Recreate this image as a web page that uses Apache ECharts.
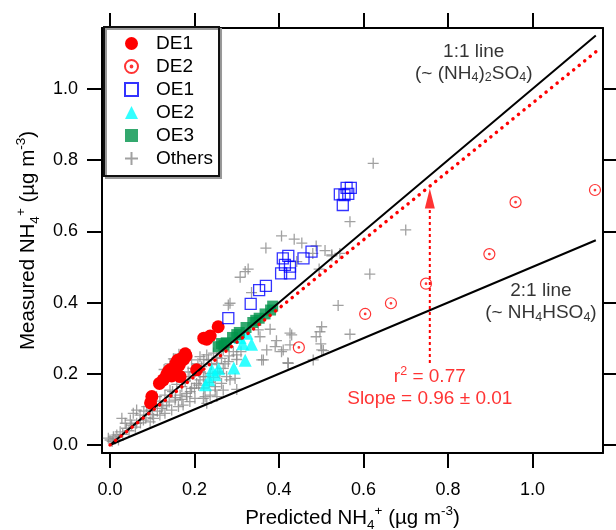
<!DOCTYPE html>
<html><head><meta charset="utf-8">
<script src="https://cdn.jsdelivr.net/npm/echarts@6/dist/echarts.min.js"></script>
<style>html,body{margin:0;padding:0;background:#fff}#c{width:616px;height:530px}</style>
</head><body><div id="c"></div>
<script>
// ---- data ----
const tickValues = [0, 0.2, 0.4, 0.6, 0.8, 1.0];
const de1 = [[0.256,0.332],[0.237,0.306],[0.222,0.300],[0.229,0.297],[0.205,0.211],[0.178,0.256],[0.174,0.240],[0.170,0.243],[0.164,0.225],[0.156,0.229],[0.151,0.215],[0.142,0.211],[0.138,0.206],[0.166,0.192],[0.146,0.194],[0.134,0.197],[0.126,0.183],[0.117,0.173],[0.099,0.136],[0.096,0.118],[0.160,0.238],[0.180,0.250]];
const de2 = [[0.447,0.274],[0.604,0.368],[0.665,0.398],[0.748,0.453],[0.898,0.536],[0.960,0.682],[1.148,0.716]];
const oe1 = [[0.280,0.356],[0.333,0.396],[0.353,0.435],[0.369,0.447],[0.405,0.482],[0.426,0.482],[0.414,0.506],[0.426,0.501],[0.409,0.524],[0.422,0.531],[0.458,0.524],[0.477,0.543],[0.551,0.674],[0.544,0.704],[0.555,0.702],[0.564,0.705],[0.560,0.722],[0.570,0.722]];
const oe2 = [[0.335,0.283],[0.314,0.284],[0.308,0.302],[0.324,0.314],[0.320,0.238],[0.293,0.216],[0.257,0.214],[0.241,0.211],[0.249,0.197],[0.234,0.183],[0.226,0.169]];
const oe3 = [[0.256,0.276],[0.264,0.285],[0.275,0.287],[0.290,0.302],[0.306,0.316],[0.322,0.330],[0.338,0.344],[0.353,0.356],[0.367,0.368],[0.380,0.379],[0.385,0.390],[0.270,0.280],[0.300,0.310],[0.345,0.350]];
const others = [[0.000,0.014],[-0.004,0.019],[0.008,0.023],[0.016,0.028],[0.024,0.037],[0.020,0.014],[0.005,0.010],[0.012,0.017],
[0.039,0.047],[0.051,0.056],[0.063,0.061],[0.079,0.070],[0.095,0.065],[0.103,0.075],[0.118,0.084],[0.130,0.089],[0.146,0.098],[0.162,0.108],[0.173,0.112],[0.189,0.122],[0.201,0.131],
[0.071,0.084],[0.036,0.061],[0.028,0.075],[0.055,0.089],[0.095,0.098],[0.122,0.103],[0.134,0.112],[0.154,0.126],[0.166,0.140],[0.181,0.145],[0.193,0.159],[0.170,0.164],[0.205,0.173],[0.213,0.183],[0.225,0.192],[0.237,0.201],[0.201,0.206],[0.217,0.220],[0.173,0.229],[0.193,0.239],[0.213,0.248],[0.229,0.253],[0.245,0.258],[0.181,0.258],[0.154,0.234],[0.189,0.192],[0.130,0.140],[0.110,0.136],[0.142,0.154],[0.253,0.229],[0.264,0.243],[0.268,0.215],[0.276,0.192],[0.264,0.173],[0.249,0.154],[0.237,0.140],[0.221,0.131],[0.268,0.267],[0.280,0.234],[0.087,0.108],[0.063,0.098],
[0.030,0.030],[0.045,0.040],[0.060,0.050],[0.072,0.062],[0.085,0.076],[0.100,0.085],[0.112,0.095],[0.125,0.110],[0.140,0.121],[0.155,0.133],[0.170,0.128],[0.182,0.136],[0.190,0.150],[0.200,0.160],[0.210,0.168],[0.222,0.160],[0.235,0.176],[0.245,0.190],[0.255,0.205],[0.272,0.228],[0.282,0.250],[0.292,0.262],[0.300,0.240],[0.310,0.262],
[0.142,0.228],[0.150,0.242],[0.163,0.255],[0.128,0.212],[0.208,0.228],[0.222,0.240],[0.240,0.226],[0.253,0.246],[0.212,0.205],[0.196,0.215],[0.185,0.205],[0.178,0.180],[0.158,0.170],[0.148,0.150],[0.118,0.123],[0.105,0.112],[0.080,0.095],[0.048,0.070],
[0.284,0.398],[0.379,0.325],[0.426,0.314],[0.501,0.332],[0.488,0.304],[0.394,0.293],[0.410,0.267],[0.426,0.281],[0.499,0.284],[0.505,0.265],[0.481,0.239],[0.422,0.229],[0.359,0.239],[0.371,0.267],[0.296,0.187],[0.284,0.183],[0.300,0.156],[0.268,0.154],[0.249,0.164],[0.253,0.136],[0.225,0.136],[0.229,0.117],[0.260,0.201],[0.233,0.239],[0.300,0.253],[0.221,0.192],[0.355,0.304],[0.391,0.276],
[0.568,0.627],[0.406,0.587],[0.436,0.578],[0.454,0.567],[0.369,0.553],[0.488,0.559],[0.509,0.546],[0.480,0.538],[0.525,0.534],[0.544,0.538],[0.442,0.515],[0.327,0.494],[0.320,0.487],[0.308,0.471],[0.335,0.428],[0.495,0.494],[0.280,0.393],[0.351,0.323],[0.430,0.309],[0.406,0.262],[0.363,0.239],[0.497,0.318],[0.501,0.267],[0.421,0.231],[0.568,0.311],[0.540,0.392],
[0.623,0.791],[0.700,0.604],[0.615,0.480],[0.525,0.531]];
const line11 = [[0,0],[1.15,1.15]];
const line21 = [[0,0],[1.15,0.575]];
const fitLine = [[0,0],[1.15,1.104]];
const arrowShaft = [[0.757,0.23],[0.757,0.665]];
const arrowHead = [[0.757,0.692]];
const label11Pos = [0.861,1.074];
const label21Pos = [1.020,0.402];
const labelFitPos = [0.757,0.162];

// ---- chart ----
const FF = "'Liberation Sans', Arial, sans-serif";
const FS = 18;
const TS = 20.5;
const richAxis = {
  n: {fontSize: TS, fontFamily: FF, color: '#000', lineHeight: 28, verticalAlign: 'middle'},
  sub: {fontSize: 13.5, fontFamily: FF, color: '#000', lineHeight: 13, verticalAlign: 'bottom'},
  sup: {fontSize: 13.5, fontFamily: FF, color: '#000', lineHeight: 13, verticalAlign: 'top'}
};
function richAnn(color) {
  return {
    n: {fontSize: 19, fontFamily: FF, color: color, lineHeight: 22, verticalAlign: 'middle'},
    sub: {fontSize: 12.5, fontFamily: FF, color: color, lineHeight: 10, verticalAlign: 'bottom'},
    sup: {fontSize: 12.5, fontFamily: FF, color: color, lineHeight: 10, verticalAlign: 'top'}
  };
}
const XMIN = -0.019, XMAX = 1.167, YMIN = -0.0225, YMAX = 1.171;
const tickStyle = {show: true, inside: false, length: 15, customValues: tickValues, lineStyle: {color: '#000', width: 2}};
const lineStyleAxis = {show: true, onZero: false, lineStyle: {color: '#000', width: 2}};
const ringPath = 'path://M0,-5A5,5,0,1,1,0,5A5,5,0,1,1,0,-5ZM0,-0.7A0.7,0.7,0,1,1,0,0.7A0.7,0.7,0,1,1,0,-0.7Z';
const plusPath = 'path://M-5,0L5,0M0,-5L0,5';

function annSeries(pos, text, color) {
  return {
    type: 'scatter', data: [pos], symbolSize: 1, itemStyle: {color: 'rgba(0,0,0,0)'}, silent: true, z: 10,
    label: {show: true, position: 'inside', formatter: text, rich: richAnn(color), align: 'center'}
  };
}

const chart = echarts.init(document.getElementById('c'), null, {renderer: 'canvas'});
chart.setOption({
  animation: false,
  backgroundColor: '#fff',
  grid: {left: 102, right: 13, top: 28, bottom: 77, containLabel: false, outerBoundsMode: 'none'},
  legend: {
    data: ['DE1','DE2','OE1','OE2','OE3','Others'],
    orient: 'vertical', left: 104, top: 27,
    padding: [7, 6, 8, 20], itemGap: 4, itemWidth: 13, itemHeight: 13,
    textStyle: {fontSize: 19, fontFamily: FF, color: '#000', padding: [0, 0, 0, 13]},
    backgroundColor: '#fff', borderColor: '#111', borderWidth: 2,
    shadowColor: '#999', shadowOffsetX: 2, shadowOffsetY: 2, shadowBlur: 0,
    selectedMode: false
  },
  xAxis: [{
    type: 'value', min: XMIN, max: XMAX, position: 'bottom',
    axisLine: lineStyleAxis, axisTick: tickStyle, splitLine: {show: false},
    axisLabel: {show: true, customValues: tickValues, margin: 28, fontSize: FS, fontFamily: FF, color: '#000', formatter: v => v.toFixed(1)},
    name: '{n|Predicted NH}{sub|4}{sup|+}{n| (µg m}{sup|-3}{n|)}', nameLocation: 'middle', nameGap: 50,
    nameTextStyle: {rich: richAxis}
  }, {
    type: 'value', min: XMIN, max: XMAX, position: 'top',
    axisLine: lineStyleAxis, axisTick: tickStyle, splitLine: {show: false}, axisLabel: {show: false}
  }],
  yAxis: [{
    type: 'value', min: YMIN, max: YMAX, position: 'left',
    axisLine: lineStyleAxis, axisTick: tickStyle, splitLine: {show: false},
    axisLabel: {show: true, customValues: tickValues, margin: 24, fontSize: FS, fontFamily: FF, color: '#000', formatter: v => v.toFixed(1)},
    name: '{n|Measured NH}{sub|4}{sup|+}{n| (µg m}{sup|-3}{n|)}', nameLocation: 'middle', nameGap: 60,
    nameTextStyle: {rich: richAxis}
  }, {
    type: 'value', min: YMIN, max: YMAX, position: 'right',
    axisLine: lineStyleAxis, axisTick: tickStyle, splitLine: {show: false}, axisLabel: {show: false}
  }],
  series: [
    {name: 'Others', type: 'scatter', data: others, symbol: plusPath, symbolSize: 11,
      itemStyle: {color: 'rgba(0,0,0,0)', borderColor: '#8a8a8a', borderWidth: 1.3}, z: 2},
    {name: 'DE1', type: 'scatter', data: de1, symbol: 'circle', symbolSize: 13,
      itemStyle: {color: '#ff0000', opacity: 1}, z: 3},
    {name: 'DE2', type: 'scatter', data: de2, symbol: ringPath, symbolSize: 11,
      itemStyle: {color: 'rgba(0,0,0,0)', borderColor: '#ff0000', borderWidth: 1.2}, z: 3},
    {name: 'OE1', type: 'scatter', data: oe1, symbol: 'rect', symbolSize: 11,
      itemStyle: {color: 'rgba(0,0,0,0)', borderColor: '#0000ff', borderWidth: 1.3}, z: 3},
    {name: 'OE2', type: 'scatter', data: oe2, symbol: 'triangle', symbolSize: 13,
      itemStyle: {color: '#00ffff'}, z: 3},
    {name: 'OE3', type: 'scatter', data: oe3, symbol: 'rect', symbolSize: 11,
      itemStyle: {color: '#00924a'}, z: 3},
    {type: 'line', data: line11, symbol: 'none', lineStyle: {color: '#000', width: 2}, z: 5, silent: true},
    {type: 'line', data: line21, symbol: 'none', lineStyle: {color: '#000', width: 2}, z: 5, silent: true},
    {type: 'line', data: fitLine, symbol: 'none', lineStyle: {color: '#ff0000', width: 3.5, type: [0.1, 7], cap: 'round'}, z: 6, silent: true},
    {type: 'line', data: arrowShaft, symbol: 'none', lineStyle: {color: '#ff0000', width: 2, type: [3, 3]}, z: 6, silent: true},
    {type: 'scatter', data: arrowHead, symbol: 'triangle', symbolSize: [10, 20], itemStyle: {color: '#ff0000'}, z: 6, silent: true},
    annSeries(label11Pos, '{n|1:1 line}\n{n|(~ (NH}{sub|4}{n|)}{sub|2}{n|SO}{sub|4}{n|)}', '#000'),
    annSeries(label21Pos, '{n|2:1 line}\n{n|(~ NH}{sub|4}{n|HSO}{sub|4}{n|)}', '#000'),
    annSeries(labelFitPos, '{n|r}{sup|2}{n| = 0.77}\n{n|Slope = 0.96 ± 0.01}', '#ff0000')
  ]
});
</script></body></html>
